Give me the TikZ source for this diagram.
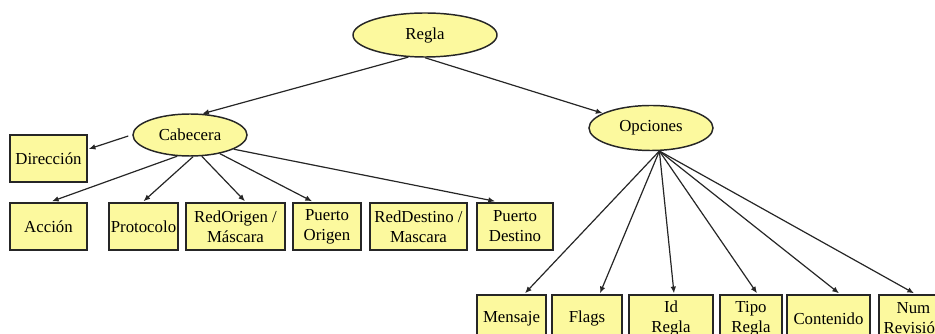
\documentclass[tikz,border=0pt]{standalone}
\usepackage{fontspec}
\setmainfont{Liberation Serif}
\newfontfamily\labelfont{Liberation Serif}
\usetikzlibrary{calc,arrows.meta,shapes.geometric}
\definecolor{paleyellow}{RGB}{252,249,158}
\definecolor{edgegray}{RGB}{38,38,38}
\begin{document}
\begin{tikzpicture}[x=0.75pt,y=-0.75pt,
  every node/.style={font=\labelfont\fontsize{12.6}{15}\selectfont, text=black},
  oval/.style={ellipse, draw=edgegray, line width=1.1pt, fill=paleyellow, inner sep=0pt},
  field/.style={rectangle, draw=edgegray, line width=1.1pt, fill=paleyellow,
    inner sep=0pt, align=center, minimum height=35.25pt},
  link/.style={draw=edgegray, line width=0.9pt, -{Latex[length=5pt,width=4.2pt]}},
]
\useasboundingbox (0,0) rectangle (935,334);
\clip (0,0) rectangle (935,334);

% ---- ovals ----
\node[oval, minimum width=108pt, minimum height=33pt] (regla) at (425,35) {Regla};
\node[oval, minimum width=85.5pt, minimum height=31.5pt] (cab) at (190,135) {Cabecera};
\node[oval, minimum width=93pt, minimum height=33.75pt] (opc) at (651,128) {Opciones};

% ---- header fields ----
\node[field, minimum width=57.75pt] (dir) at (48.5,158.5) {Dirección};
\node[field, minimum width=57.75pt] (acc) at (48.5,226.5) {Acción};
\node[field, minimum width=51.75pt] (prot) at (143.5,226.5) {Protocolo};
\node[field, minimum width=74.25pt] (rorig) at (235.5,226.5) {RedOrigen /\\Máscara};
\node[field, minimum width=51pt] (porig) at (327,226.5) {Puerto\\Origen};
\node[field, minimum width=72.75pt] (rdest) at (418.5,226.5) {RedDestino /\\Mascara};
\node[field, minimum width=57pt] (pdest) at (515,226.5) {Puerto\\Destino};

% ---- option fields ----
\node[field, minimum width=51.75pt] (msg) at (511.5,318.5) {Mensaje};
\node[field, minimum width=52.5pt] (flags) at (587,318.5) {Flags};
\node[field, minimum width=63pt] (idr) at (671,318.5) {Id\\Regla};
\node[field, minimum width=46.5pt] (tipo) at (751,318.5) {Tipo\\Regla};
\node[field, minimum width=62.25pt] (cont) at (828.5,318.5) {Contenido};
\node[field, minimum width=51.75pt] (num) at (913.5,318.5) {Num\\Revisión};

% ---- connectors ----
\draw[link] (regla.233) -- (cab.60);
\draw[link] (regla.south) -- (opc.163);

\draw[link] ($(cab.west)+(-4,1)$) -- ($(dir.east)+(1,-9.5)$);
\draw[link] (cab.239) -- ($(acc.north)+(3.5,-1)$);
\draw[link] (cab.278) -- ($(prot.north)+(0,-1)$);
\draw[link] (cab.299) -- ($(rorig.north)+(9.5,-1)$);
\draw[link] (cab.328) -- ($(porig.north)+(-15,-1)$);
\draw[link] (cab.342) -- ($(pdest.north)+(-20,-1)$);

\draw[link] (opc.290) -- ($(msg.north)+(13.5,-1)$);
\draw[link] (opc.290) -- ($(flags.north)+(13,-1)$);
\draw[link] (opc.290) -- ($(idr.north)+(3,-1)$);
\draw[link] (opc.290) -- ($(tipo.north)+(6,-1)$);
\draw[link] (opc.290) -- ($(cont.north)+(10.5,-1)$);
\draw[link] (opc.290) -- ($(num.north)+(0.5,-1)$);
\end{tikzpicture}
\end{document}
